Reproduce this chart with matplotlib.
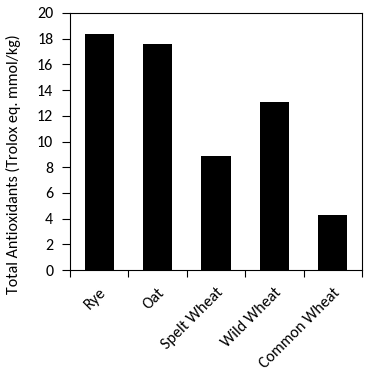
import matplotlib
matplotlib.use("Agg")
import matplotlib.pyplot as plt
from matplotlib.ticker import FixedLocator

categories = ["Rye", "Oat", "Spelt Wheat", "Wild Wheat", "Common Wheat"]
values = [18.4, 17.6, 8.9, 13.05, 4.3]
yticks = [0, 2, 4, 6, 8, 10, 12, 14, 16, 18, 20]

plt.rcParams['font.family'] = ['Carlito', 'DejaVu Sans']

fig = plt.figure(figsize=(3.72, 3.72), dpi=100)
ax = fig.add_axes([70/372, 1-270/372, 292/372, 257/372])

x = list(range(len(categories)))
ax.bar(x, values, width=0.5, color='black')
ax.set_xlim(-0.5, len(categories) - 0.5)
ax.set_ylim(0, 20)
ax.set_yticks(yticks)
ax.tick_params(axis='y', direction='out', length=6, width=0.8, labelsize=11.5, pad=6, colors='#000000')
ax.xaxis.set_major_locator(FixedLocator([i - 0.5 for i in range(len(categories) + 1)]))
ax.set_xticklabels([])
ax.xaxis.set_minor_locator(FixedLocator(x))
ax.set_xticklabels(categories, minor=True, rotation=45, ha='right', va='top',
                   rotation_mode='anchor', fontsize=11.5)
ax.tick_params(axis='x', which='major', direction='out', length=5, width=0.8)
ax.tick_params(axis='x', which='minor', length=0, pad=11)
for s in ax.spines.values():
    s.set_linewidth(0.8)
ax.set_ylabel("Total Antioxidants (Trolox eq. mmol/kg)", fontsize=11.5)
ax.yaxis.set_label_coords(-0.167, 0.41)

fig.savefig("out.png", dpi=100)
